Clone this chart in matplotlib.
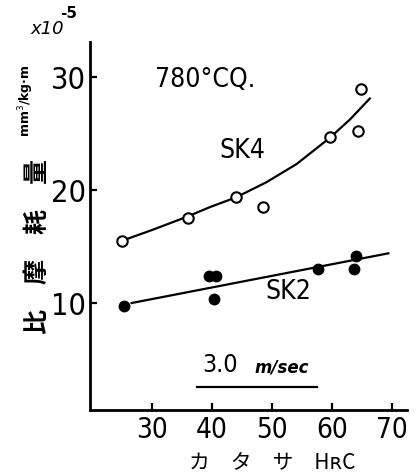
import matplotlib
matplotlib.use('Agg')
import matplotlib.pyplot as plt

# SK4 (open circles) - hardness HRC vs specific wear
sk4_x = [25, 36, 44, 48.5, 59.7, 64.4, 64.8]
sk4_y = [15.5, 17.5, 19.4, 18.5, 24.7, 25.2, 28.9]
# SK4 curve
sk4_cx = [24.95, 30.2, 35.9, 39.7, 44.0, 49.1, 54.1, 59.7, 63.0, 66.3]
sk4_cy = [15.5, 16.5, 17.65, 18.5, 19.35, 20.7, 22.3, 24.65, 26.25, 28.1]

# SK2 (filled circles)
sk2_x = [25.3, 39.5, 40.7, 40.3, 57.7, 64, 63.7]
sk2_y = [9.7, 12.4, 12.4, 10.4, 13.0, 14.2, 13.05]
# SK2 straight line ends
sk2_lx = [26.6, 69.4]
sk2_ly = [10.0, 14.4]

xticks = [30, 40, 50, 60, 70]
yticks = [10, 20, 30]

cjk = ['Noto Sans CJK JP', 'DejaVu Sans']

fig = plt.figure(figsize=(4.18, 4.75), dpi=100)
ax = fig.add_axes([0.2153, 0.1368, 0.7584, 0.7747])

ax.plot(sk4_cx, sk4_cy, color='black', lw=1.6, zorder=2)
ax.plot(sk4_x, sk4_y, 'o', ms=7.5, mfc='white', mec='black', mew=1.5, zorder=3)
ax.plot(sk2_lx, sk2_ly, color='black', lw=1.6, zorder=2)
ax.plot(sk2_x, sk2_y, 'o', ms=7.5, mfc='black', mec='black', zorder=3)

ax.set_xlim(19.67, 72.5)
ax.set_ylim(0.53, 33.1)
ax.set_xticks(xticks)
ax.set_yticks(yticks)
ax.tick_params(axis='both', direction='in', length=5, width=1.6)
ax.tick_params(axis='x', labelsize=20, pad=4)
ax.tick_params(axis='y', labelsize=22, pad=3)
for lab in ax.get_xticklabels() + ax.get_yticklabels():
    lab.set_stretch('condensed')
for s in ['top', 'right']:
    ax.spines[s].set_visible(False)
for s in ['left', 'bottom']:
    ax.spines[s].set_linewidth(2.0)

ax.text(38.8, 29.7, '780°CQ.', fontsize=19, stretch='condensed', ha='center', va='center')
ax.text(45, 23.45, 'SK4', fontsize=19, stretch='condensed', ha='center', va='center')
ax.text(52.7, 11.0, 'SK2', fontsize=19, stretch='condensed', ha='center', va='center')
ax.text(41.3, 4.5, '3.0', fontsize=18, stretch='condensed', ha='center', va='center')
ax.text(51.7, 4.3, 'm/sec', fontsize=12, fontweight='bold', style='italic',
        ha='center', va='center')
# underline under the speed note
ax.plot([0.338, 0.717], [0.063, 0.063], transform=ax.transAxes,
        color='black', lw=1.6, clip_on=False)

fig.text(0.0909, 0.48, '比　摩　耗　量', family=cjk, fontsize=18,
         fontweight='bold', rotation=90, ha='center', va='center')
fig.text(0.062, 0.789, 'mm$^3$/kg·m', fontsize=9, fontweight='bold',
         rotation=90, ha='center', va='center')
fig.text(0.112, 0.939, 'x10', fontsize=13, style='italic', ha='center', va='center')
fig.text(0.165, 0.972, '-5', fontsize=11, fontweight='bold', ha='center', va='center')
fig.text(0.651, 0.025, 'カ　タ　サ　HʀC', family=cjk, fontsize=15,
         ha='center', va='center')

fig.savefig('out.png', dpi=100)
